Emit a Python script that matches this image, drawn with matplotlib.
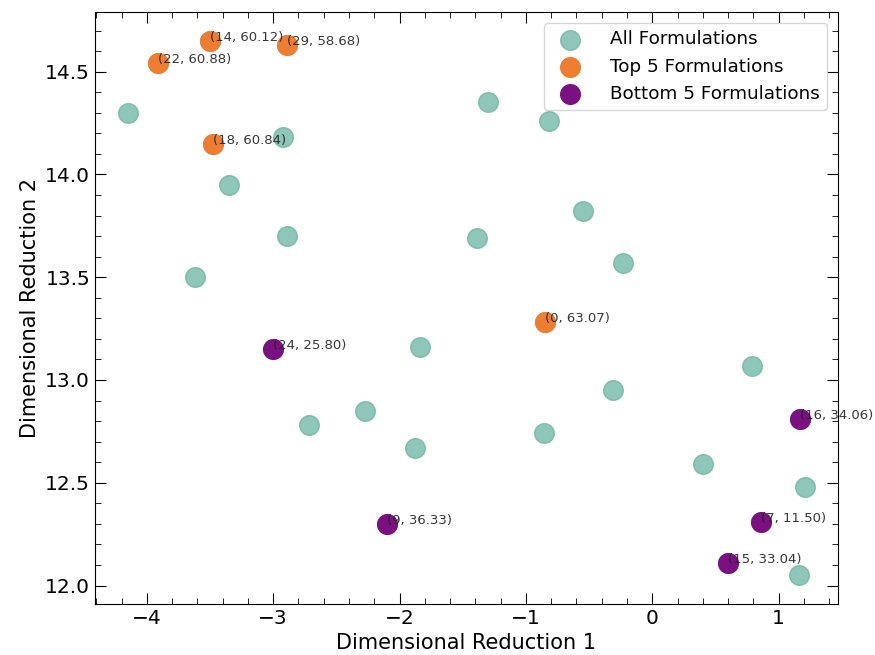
import matplotlib
matplotlib.use("Agg")
import matplotlib.pyplot as plt
from matplotlib.ticker import AutoMinorLocator

# All formulations (index, dim1, dim2)
all_idx = list(range(30))
all_x = {
    1: -4.15, 2: -2.92, 3: -3.35, 4: -1.30, 5: -0.82, 6: -2.89, 8: -3.62, 10: -1.39,
    11: -0.55, 12: -0.23, 13: -1.84, 17: 0.79, 19: -0.31, 20: -2.27, 21: -2.72,
    23: -1.88, 25: -0.86, 26: 0.40, 27: 1.21, 28: 1.16,
}
all_y = {
    1: 14.30, 2: 14.18, 3: 13.95, 4: 14.35, 5: 14.26, 6: 13.70, 8: 13.50, 10: 13.69,
    11: 13.82, 12: 13.57, 13: 13.16, 17: 13.07, 19: 12.95, 20: 12.85, 21: 12.78,
    23: 12.67, 25: 12.74, 26: 12.59, 27: 12.48, 28: 12.05,
}

top_idx = [0, 14, 22, 29, 18]
top_x = [-0.85, -3.50, -3.91, -2.89, -3.48]
top_y = [13.28, 14.65, 14.54, 14.63, 14.15]
top_val = [63.07, 60.12, 60.88, 58.68, 60.84]

bot_idx = [24, 9, 16, 7, 15]
bot_x = [-3.00, -2.10, 1.17, 0.86, 0.60]
bot_y = [13.15, 12.30, 12.81, 12.31, 12.11]
bot_val = [25.80, 36.33, 34.06, 11.50, 33.04]

for i, x, y in zip(top_idx, top_x, top_y):
    all_x[i] = x; all_y[i] = y
for i, x, y in zip(bot_idx, bot_x, bot_y):
    all_x[i] = x; all_y[i] = y

xs = [all_x[i] for i in all_idx]
ys = [all_y[i] for i in all_idx]

fig = plt.figure(figsize=(8.75, 6.55), dpi=100)
ax = fig.add_axes([95/875, 1-604/655, (838-95)/875, (604-12)/655])

ax.scatter(xs, ys, s=200, color="#69b3a2", alpha=0.75, label="All Formulations")
ax.scatter(top_x, top_y, s=200, color="#ED7D31", alpha=1.0, label="Top 5 Formulations")
ax.scatter(bot_x, bot_y, s=200, color="#7B1180", alpha=1.0, label="Bottom 5 Formulations")

for i, x, y, v in zip(top_idx, top_x, top_y, top_val):
    ax.annotate(f"({i}, {v:.2f})", (x, y), fontsize=9.5, color="#222222", alpha=0.9)
for i, x, y, v in zip(bot_idx, bot_x, bot_y, bot_val):
    ax.annotate(f"({i}, {v:.2f})", (x, y), fontsize=9.5, color="#222222", alpha=0.9)

ax.set_xlim(-4.41, 1.47)
ax.set_ylim(11.91, 14.79)
ax.set_yticks([12.0, 12.5, 13.0, 13.5, 14.0, 14.5])
ax.set_xticks([-4, -3, -2, -1, 0, 1])
ax.xaxis.set_minor_locator(AutoMinorLocator())
ax.yaxis.set_minor_locator(AutoMinorLocator())
ax.tick_params(which="both", direction="in", top=True, right=True, labelsize=14.5)
ax.tick_params(which="major", length=8)
ax.tick_params(which="minor", length=4)

ax.set_xlabel("Dimensional Reduction 1", fontsize=15)
ax.set_ylabel("Dimensional Reduction 2", fontsize=15)
ax.legend(loc="upper right", fontsize=13.2, handletextpad=1.2, borderaxespad=0.6)

fig.savefig("out.png", dpi=100)
